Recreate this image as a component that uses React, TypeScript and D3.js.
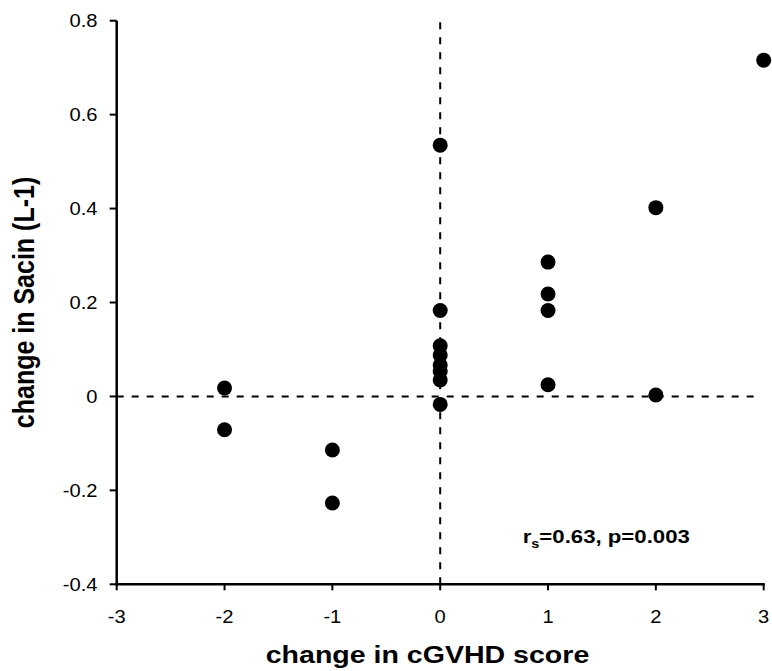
import React from "react";
import * as d3 from "d3";

const xValues = [-2, -2, -1, -1, 0, 0, 0, 0, 0, 0, 0, 0, 1, 1, 1, 1, 2, 2, 3];
const yValues = [0.018, -0.071, -0.114, -0.227, 0.535, 0.183, 0.108, 0.088, 0.067, 0.053, 0.035, -0.017, 0.286, 0.218, 0.183, 0.025, 0.402, 0.003, 0.716];
const xTicks = [-3, -2, -1, 0, 1, 2, 3];
const yTicks = [-0.4, -0.2, 0, 0.2, 0.4, 0.6, 0.8];
const xTitle = "change in cGVHD score";
const yTitle = "change in Sacin (L-1)";
const hRefLine = [[-3, 0], [2.94, 0]];
const vRefLine = [[0, -0.4], [0, 0.8]];

const W = 772;
const H = 671;
const FONT = "Arial, 'Liberation Sans', Helvetica, sans-serif";

export default function App() {
  const x = d3.scaleLinear().domain([-3, 3]).range([116.7, 763.7]);
  const y = d3.scaleLinear().domain([-0.4, 0.8]).range([584.3, 20.7]);
  const line = d3.line<number[]>().x((d) => x(d[0])).y((d) => y(d[1]));
  const fmtY = (v: number) =>
    Math.abs(v) < 1e-9 ? "0" : d3.format(".1f")(v).replace("\u2212", "-");

  const x0 = x(-3);
  const y0 = y(-0.4);

  return (
    <svg
      width={W}
      height={H}
      style={{ position: "absolute", left: 0, top: 0, background: "#fff" }}
      fontFamily={FONT}
    >
      {/* reference dashed lines */}
      <path d={line(hRefLine as any) || ""} stroke="#000" strokeWidth={2} strokeDasharray="7,8" fill="none" />
      <path d={line(vRefLine as any) || ""} stroke="#000" strokeWidth={2} strokeDasharray="7,8" fill="none" />

      {/* axes */}
      <line x1={x0} x2={x0} y1={y(0.8)} y2={y0 + 1} stroke="#000" strokeWidth={2.5} />
      <line x1={x0 - 1} x2={x(3) + 1} y1={y0} y2={y0} stroke="#000" strokeWidth={2.5} />

      {yTicks.map((t) => (
        <g key={"yt" + t}>
          <line x1={x0 - 7} x2={x0} y1={y(t)} y2={y(t)} stroke="#000" strokeWidth={2} />
          <g transform={`translate(${97.5},${y(t) + 6.5}) scale(1.12,1)`}>
            <text textAnchor="end" fontSize={18} fill="#000">
              {fmtY(t)}
            </text>
          </g>
        </g>
      ))}

      {xTicks.map((t) => (
        <g key={"xt" + t}>
          <line x1={x(t)} x2={x(t)} y1={y0} y2={y0 + 6} stroke="#000" strokeWidth={2} />
          <g transform={`translate(${x(t)},${622.5}) scale(1.12,1)`}>
            <text textAnchor="middle" fontSize={18} fill="#000">
              {String(t)}
            </text>
          </g>
        </g>
      ))}

      {/* points */}
      {xValues.map((xv, i) => (
        <circle key={"p" + i} cx={x(xv)} cy={y(yValues[i])} r={7.5} fill="#000" />
      ))}

      {/* annotation */}
      <g transform={`translate(${522.7},${542.7}) scale(1.2,1)`}>
        <text fontSize={18.5} fontWeight="bold" fill="#000">
          r
          <tspan fontSize={12} dy={5}>s</tspan>
          <tspan dy={-5}>=0.63, p=0.003</tspan>
        </text>
      </g>

      {/* axis titles */}
      <g transform={`translate(${427.5},${663.3}) scale(1.2,1)`}>
        <text textAnchor="middle" fontSize={23.8} fontWeight="bold" fill="#000">
          {xTitle}
        </text>
      </g>
      <g transform={`translate(${33.5},${302.5}) scale(1.2,1) rotate(-90)`}>
        <text textAnchor="middle" fontSize={25} fontWeight="bold" fill="#000">
          {yTitle}
        </text>
      </g>
    </svg>
  );
}
